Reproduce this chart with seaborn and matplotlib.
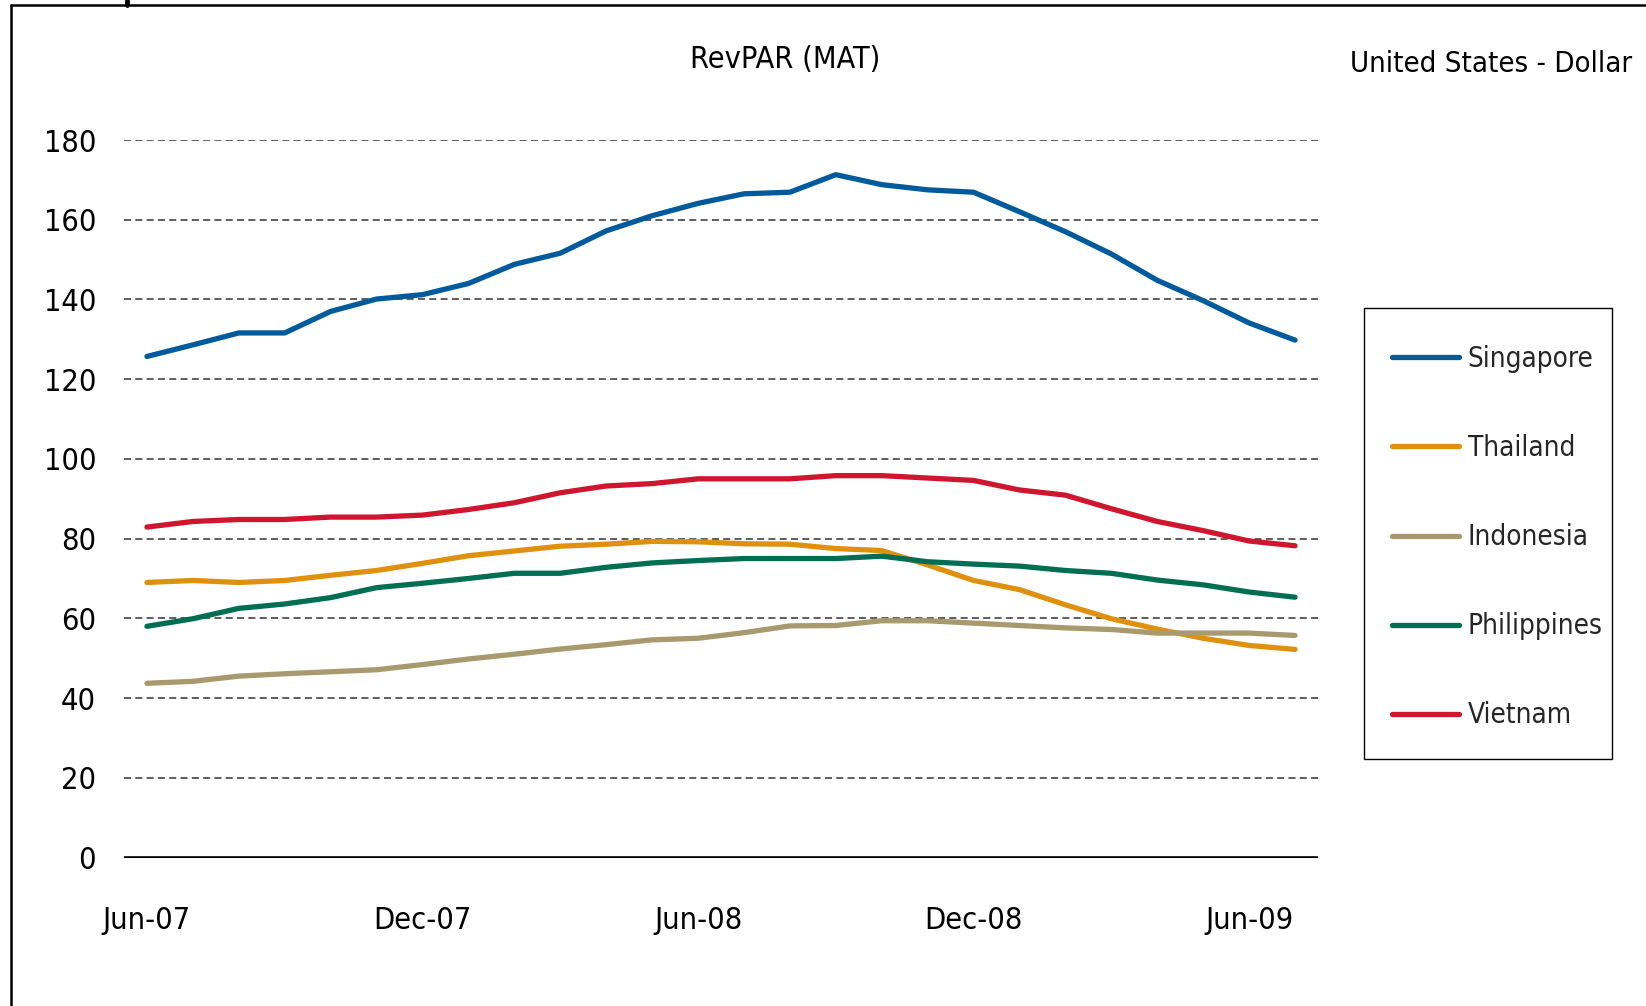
import pandas as pd
import matplotlib
matplotlib.use("Agg")
import matplotlib.pyplot as plt
from matplotlib.patches import Rectangle
import seaborn as sns

months = ['Jun-07', 'Jul-07', 'Aug-07', 'Sep-07', 'Oct-07', 'Nov-07', 'Dec-07',
          'Jan-08', 'Feb-08', 'Mar-08', 'Apr-08', 'May-08', 'Jun-08', 'Jul-08',
          'Aug-08', 'Sep-08', 'Oct-08', 'Nov-08', 'Dec-08', 'Jan-09', 'Feb-09',
          'Mar-09', 'Apr-09', 'May-09', 'Jun-09', 'Jul-09']

singapore = [125.7, 128.6, 131.6, 131.6, 137.0, 140.1, 141.2, 144.0, 148.8, 151.6,
             157.2, 161.0, 164.1, 166.5, 166.9, 171.3, 168.8, 167.5, 166.9, 162.0,
             157.0, 151.4, 144.8, 139.7, 134.1, 129.8]
thailand = [69.0, 69.5, 69.0, 69.5, 70.8, 72.0, 73.8, 75.7, 76.9, 78.1,
            78.6, 79.3, 79.2, 78.7, 78.6, 77.5, 77.0, 73.4, 69.5, 67.2,
            63.4, 59.9, 57.3, 55.0, 53.2, 52.2]
indonesia = [43.7, 44.2, 45.5, 46.1, 46.6, 47.1, 48.4, 49.8, 51.0, 52.3,
             53.4, 54.6, 55.0, 56.4, 58.1, 58.2, 59.4, 59.4, 58.8, 58.2,
             57.6, 57.2, 56.3, 56.3, 56.3, 55.7]
philippines = [58.0, 59.9, 62.5, 63.6, 65.2, 67.7, 68.8, 70.0, 71.3, 71.3,
               72.8, 73.9, 74.5, 75.0, 75.0, 75.0, 75.6, 74.2, 73.6, 73.1,
               72.0, 71.3, 69.6, 68.4, 66.6, 65.3]
vietnam = [82.9, 84.3, 84.8, 84.8, 85.4, 85.4, 85.9, 87.3, 89.0, 91.5,
           93.2, 93.8, 95.0, 95.0, 95.0, 95.8, 95.8, 95.2, 94.6, 92.2,
           90.9, 87.5, 84.3, 82.0, 79.4, 78.2]

countries = ['Singapore', 'Thailand', 'Indonesia', 'Philippines', 'Vietnam']
colors = ['#005A9C', '#E0900F', '#A89A6E', '#006E52', '#D0152F']
y_ticks = [0, 20, 40, 60, 80, 100, 120, 140, 160, 180]
x_tick_labels = ['Jun-07', 'Dec-07', 'Jun-08', 'Dec-08', 'Jun-09']

W, H = 1646, 1006


def main():
    series = [singapore, thailand, indonesia, philippines, vietnam]
    frames = []
    for name, vals in zip(countries, series):
        frames.append(pd.DataFrame({'idx': range(len(months)), 'month': months,
                                    'value': vals, 'country': name}))
    df = pd.concat(frames, ignore_index=True)

    sns.set_theme(style='white')
    plt.rcParams['font.family'] = ['DejaVu Sans']
    plt.rcParams['font.stretch'] = 'condensed'

    fig = plt.figure(figsize=(W / 100, H / 100), dpi=100)
    ax = fig.add_axes([124 / W, 1 - 857.5 / H, (1318 - 124) / W, (857.5 - 140) / H])

    # grid lines behind the data
    for y in y_ticks[1:]:
        ax.axhline(y, color='#333333', lw=1.1, ls=(0, (4.6, 2.8)), zorder=1)
    ax.axhline(0, color='black', lw=2.6, zorder=1)

    sns.lineplot(data=df, x='idx', y='value', hue='country', hue_order=countries,
                 palette=colors, linewidth=3.8, ax=ax, zorder=3, legend=True)

    ax.set_xlim(-0.5, len(months) - 0.5)
    ax.set_ylim(0, 180)
    ax.set_yticks(y_ticks)
    ax.set_yticklabels([str(v) for v in y_ticks])
    ax.set_xticks([months.index(m) for m in x_tick_labels])
    ax.set_xticklabels(x_tick_labels)
    ax.tick_params(axis='y', length=0, pad=20, labelsize=22, colors='black')
    ax.tick_params(axis='x', length=0, pad=35, labelsize=22, colors='black')
    ax.set_xlabel('')
    ax.set_ylabel('')
    for s in ax.spines.values():
        s.set_visible(False)
    ax.grid(False)

    handles, labels = ax.get_legend_handles_labels()
    ax.get_legend().remove()
    leg = fig.legend(handles, labels, loc='upper left',
                     bbox_to_anchor=(1392 / W, 1 - 345 / H),
                     fontsize=20, frameon=False,
                     handlelength=2.4, handletextpad=0.32, labelspacing=2.2,
                     borderpad=0, borderaxespad=0)
    for h in leg.get_lines():
        h.set_linewidth(3.8)
    fig.add_artist(Rectangle((1364 / W, 1 - 759 / H), (1612 - 1364) / W, (759 - 308) / H,
                             transform=fig.transFigure, fill=False,
                             edgecolor='black', lw=1.0))

    fig.text(785 / W, 1 - 60 / H, 'RevPAR (MAT)', ha='center', va='center',
             fontsize=22, color='black')
    fig.text(1632 / W, 1 - 64 / H, 'United States - Dollar', ha='right', va='center',
             fontsize=21, color='black')

    # outer frame as in the source document
    fig.add_artist(plt.Line2D([11 / W, 1], [1 - 5 / H] * 2,
                              transform=fig.transFigure, color='black', lw=1.8))
    fig.add_artist(plt.Line2D([11 / W] * 2, [0, 1 - 5 / H],
                              transform=fig.transFigure, color='black', lw=1.8))
    fig.add_artist(plt.Line2D([127 / W] * 2, [1 - 5 / H, 1],
                              transform=fig.transFigure, color='black', lw=3.5))

    fig.savefig('out.png', dpi=100)


if __name__ == "__main__":
    main()
